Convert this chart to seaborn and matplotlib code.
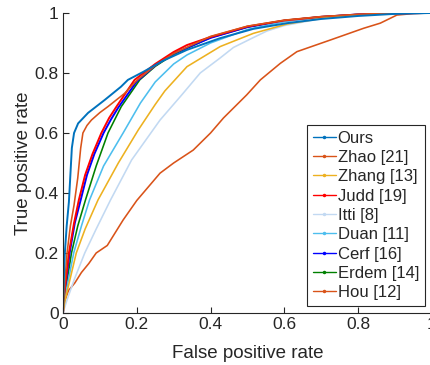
import numpy as np
import pandas as pd
import matplotlib
matplotlib.use("Agg")
import matplotlib.pyplot as plt
from matplotlib.lines import Line2D
import seaborn as sns

# ROC curves (false positive rate, true positive rate)
ours_fpr = [0, 0.002, 0.005, 0.01, 0.016, 0.02, 0.024, 0.03, 0.041, 0.068, 0.113, 0.157, 0.176,
            0.218, 0.27, 0.336, 0.426, 0.516, 0.607, 0.7, 0.8, 0.9, 1]
ours_tpr = [0, 0.1, 0.2, 0.29, 0.37, 0.46, 0.55, 0.6, 0.632, 0.667, 0.71, 0.754, 0.777,
            0.804, 0.84, 0.877, 0.916, 0.947, 0.966, 0.98, 0.99, 0.997, 1]

zhao_fpr = [0, 0.005, 0.011, 0.02, 0.03, 0.04, 0.048, 0.054, 0.065, 0.077, 0.1, 0.122, 0.167,
            0.2, 0.25, 0.3, 0.4, 0.5, 0.6, 0.7, 0.8, 0.9, 1]
zhao_tpr = [0, 0.1, 0.2, 0.29, 0.36, 0.45, 0.55, 0.6, 0.625, 0.643, 0.668, 0.688, 0.732,
            0.775, 0.825, 0.865, 0.922, 0.956, 0.976, 0.988, 0.995, 0.999, 1]

zhang_fpr = [0, 0.005, 0.036, 0.06, 0.095, 0.15, 0.204, 0.25, 0.276, 0.336, 0.426, 0.516,
             0.607, 0.7, 0.8, 0.9, 1]
zhang_tpr = [0, 0.04, 0.2, 0.28, 0.377, 0.5, 0.61, 0.695, 0.74, 0.821, 0.888, 0.932,
             0.963, 0.982, 0.993, 0.999, 1]

judd_fpr = [0, 0.005, 0.016, 0.03, 0.043, 0.06, 0.08, 0.104, 0.125, 0.145, 0.194, 0.25, 0.3,
            0.336, 0.4, 0.5, 0.6, 0.7, 0.8, 0.9, 1]
judd_tpr = [0, 0.08, 0.2, 0.3, 0.377, 0.46, 0.53, 0.6, 0.65, 0.688, 0.777, 0.83, 0.87,
            0.893, 0.92, 0.955, 0.975, 0.987, 0.995, 0.999, 1]

itti_fpr = [0, 0.01, 0.03, 0.059, 0.09, 0.129, 0.186, 0.263, 0.322, 0.372, 0.426, 0.462,
            0.516, 0.553, 0.6, 0.7, 0.8, 0.9, 1]
itti_tpr = [0, 0.04, 0.11, 0.2, 0.28, 0.377, 0.51, 0.643, 0.727, 0.8, 0.85, 0.885,
            0.918, 0.94, 0.958, 0.981, 0.993, 0.999, 1]

duan_fpr = [0, 0.005, 0.029, 0.05, 0.072, 0.11, 0.163, 0.21, 0.25, 0.3, 0.336, 0.4, 0.5,
            0.6, 0.7, 0.8, 0.9, 1]
duan_tpr = [0, 0.05, 0.2, 0.29, 0.377, 0.49, 0.6, 0.7, 0.77, 0.83, 0.86, 0.9, 0.945,
            0.971, 0.986, 0.995, 0.999, 1]

cerf_fpr = [0, 0.005, 0.018, 0.032, 0.048, 0.065, 0.085, 0.11, 0.13, 0.15, 0.2, 0.25, 0.3,
            0.4, 0.5, 0.6, 0.7, 0.8, 0.9, 1]
cerf_tpr = [0, 0.075, 0.2, 0.3, 0.377, 0.46, 0.53, 0.6, 0.645, 0.685, 0.772, 0.825, 0.865,
            0.917, 0.953, 0.974, 0.987, 0.995, 0.999, 1]

erdem_fpr = [0, 0.005, 0.023, 0.04, 0.061, 0.09, 0.122, 0.158, 0.208, 0.25, 0.3, 0.4, 0.5,
             0.6, 0.7, 0.8, 0.9, 1]
erdem_tpr = [0, 0.06, 0.2, 0.29, 0.377, 0.49, 0.6, 0.688, 0.777, 0.822, 0.862, 0.918, 0.953,
             0.975, 0.987, 0.995, 0.999, 1]

hou_fpr = [0, 0.005, 0.015, 0.032, 0.05, 0.07, 0.09, 0.12, 0.163, 0.2, 0.263, 0.3, 0.353,
           0.4, 0.435, 0.498, 0.535, 0.589, 0.634, 0.725, 0.815, 0.86, 0.905, 0.95, 1]
hou_tpr = [0, 0.04, 0.075, 0.1, 0.135, 0.165, 0.2, 0.225, 0.31, 0.375, 0.466, 0.5, 0.543,
           0.6, 0.65, 0.727, 0.777, 0.832, 0.871, 0.91, 0.949, 0.966, 0.993, 0.998, 1]

methods = ["Ours", "Zhao [21]", "Zhang [13]", "Judd [19]", "Itti [8]",
           "Duan [11]", "Cerf [16]", "Erdem [14]", "Hou [12]"]
curves = [(ours_fpr, ours_tpr), (zhao_fpr, zhao_tpr), (zhang_fpr, zhang_tpr),
          (judd_fpr, judd_tpr), (itti_fpr, itti_tpr), (duan_fpr, duan_tpr),
          (cerf_fpr, cerf_tpr), (erdem_fpr, erdem_tpr), (hou_fpr, hou_tpr)]
colors = ["#0072BD", "#D95319", "#EDB120", "#FF0000", "#C2D9F2",
          "#4DBEEE", "#0000FF", "#008000", "#D95319"]

rows = []
for name, (fx, fy) in zip(methods, curves):
    for a, b in zip(fx, fy):
        rows.append({"method": name, "fpr": a, "tpr": b})
df = pd.DataFrame(rows)

sns.set_style("ticks")
plt.rcParams["font.family"] = ["Liberation Sans", "DejaVu Sans"]
plt.rcParams["axes.edgecolor"] = "#262626"
plt.rcParams["text.color"] = "#262626"
plt.rcParams["axes.labelcolor"] = "#262626"
plt.rcParams["xtick.color"] = "#262626"
plt.rcParams["ytick.color"] = "#262626"

fig = plt.figure(figsize=(4.3, 3.65), dpi=100)
ax = fig.add_axes([0.1465, 0.1425, 0.858, 0.822])

palette = dict(zip(methods, colors))
# draw back to front so Ours ends on top
for name in methods[::-1]:
    sub = df[df["method"] == name]
    lw = 1.4 if name in ("Cerf [16]", "Judd [19]", "Ours") else 1.15
    sns.lineplot(data=sub, x="fpr", y="tpr", color=palette[name], linewidth=lw,
                 ax=ax, legend=False, sort=False, estimator=None)

ax.set_xlim(0, 1)
ax.set_ylim(0, 1)
ax.set_xticks([0, 0.2, 0.4, 0.6, 0.8, 1])
ax.set_xticklabels(["0", "0.2", "0.4", "0.6", "0.8", "1"])
ax.set_yticks([0, 0.2, 0.4, 0.6, 0.8, 1])
ax.set_yticklabels(["0", "0.2", "0.4", "0.6", "0.8", "1"])
ax.tick_params(direction="in", length=4, width=0.8, labelsize=12.5, pad=3)
ax.set_xlabel("False positive rate", fontsize=13.5, labelpad=9)
ax.set_ylabel("True positive rate", fontsize=13.5, labelpad=2)
for s in ("top", "right"):
    ax.spines[s].set_visible(False)
ax.spines["left"].set_linewidth(0.8)
ax.spines["bottom"].set_linewidth(0.8)

handles = [Line2D([], [], color=c, linewidth=1.0, marker=".", markersize=3)
           for c in colors]
leg = ax.legend(handles, methods, loc="lower right", bbox_to_anchor=(0.981, 0.023),
                fontsize=12, frameon=True, fancybox=False, framealpha=1,
                edgecolor="#262626", labelspacing=0.26, handlelength=1.4,
                handletextpad=0.1, borderpad=0.35, borderaxespad=0)
leg.get_frame().set_linewidth(0.8)

fig.savefig("out.png", dpi=100)
